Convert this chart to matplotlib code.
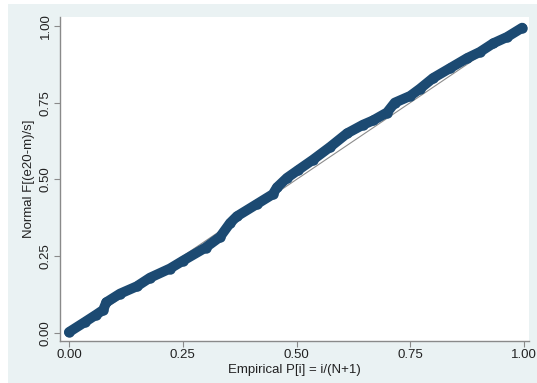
import numpy as np
import matplotlib
matplotlib.use('Agg')
import matplotlib.pyplot as plt
from matplotlib.patches import Rectangle

plt.rcParams['font.family'] = ['Liberation Sans', 'DejaVu Sans']

# empirical vs normal probabilities
p_emp = [0.000, 0.035, 0.060, 0.075, 0.082, 0.112, 0.149, 0.178, 0.222, 0.250,
         0.300, 0.332, 0.354, 0.369, 0.413, 0.448, 0.457, 0.479, 0.503, 0.536,
         0.574, 0.611, 0.646, 0.668, 0.699, 0.716, 0.750, 0.771, 0.800, 0.837,
         0.875, 0.903, 0.932, 0.963, 0.996]
p_norm = [0.003, 0.036, 0.060, 0.075, 0.100, 0.128, 0.152, 0.180, 0.210, 0.235,
          0.278, 0.313, 0.358, 0.380, 0.420, 0.452, 0.474, 0.505, 0.530, 0.564,
          0.606, 0.650, 0.678, 0.692, 0.718, 0.750, 0.772, 0.795, 0.830, 0.862,
          0.895, 0.915, 0.943, 0.964, 0.994]
ref = [0, 1]
ticks = [0, 0.25, 0.5, 0.75, 1.0]
tick_labels = ['0.00', '0.25', '0.50', '0.75', '1.00']

W, H = 537, 383
fig = plt.figure(figsize=(W/100, H/100), dpi=100, facecolor='white')

# stata graph region
fig.patches.append(Rectangle((8/W, 0), 1-8/W, 1-4/H, transform=fig.transFigure,
                             facecolor='#eaf2f3', edgecolor='none', zorder=-10))

left, right, top, bottom = 60, 529, 17, 341
ax = fig.add_axes((left/W, (H-bottom)/H, (right-left)/W, (bottom-top)/H))
ax.set_facecolor('white')

ax.plot(ref, ref, c='#8c8c8c', lw=0.8, zorder=1)
ax.plot(p_emp, p_norm, c='#1c4a72', lw=7.2, solid_capstyle='round',
        solid_joinstyle='round', zorder=2)
ax.plot(p_emp, p_norm, 'o', c='#1c4a72', ms=7.5, mec='none', zorder=2)

ax.set_xlim(-0.0198, 1.011)
ax.set_ylim(-0.026, 1.029)

for s in ['top', 'right']:
    ax.spines[s].set_visible(False)
for s in ['left', 'bottom']:
    ax.spines[s].set_color('#8a8a8a')
    ax.spines[s].set_linewidth(1.0)

ax.set_xticks(ticks)
ax.set_xticklabels(tick_labels)
ax.set_yticks(ticks)
ax.set_yticklabels(tick_labels, rotation=90, va='center')
ax.tick_params(direction='out', length=4, width=0.8, color='#8a8a8a',
               labelsize=9.5, labelcolor='#222222', pad=2)

ax.set_xlabel('Empirical P[i] = i/(N+1)', fontsize=9.5, color='#222222', labelpad=2)
ax.set_ylabel('Normal F[(e20-m)/s]', fontsize=9.5, color='#222222', labelpad=3)

fig.savefig('out.png', dpi=100, facecolor=fig.get_facecolor())
